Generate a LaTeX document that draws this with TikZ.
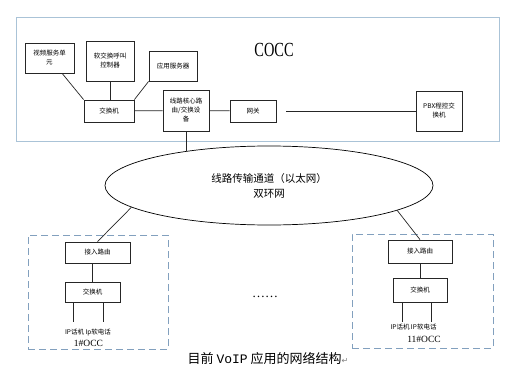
\documentclass[tikz,border=0pt]{standalone}
\usepackage{fontspec}
\setmainfont{Liberation Serif}
\newfontfamily\cjk{Noto Sans CJK SC}
\newfontfamily\mono{Liberation Mono}
\newfontfamily\symb{DejaVu Sans}
\usetikzlibrary{shapes.geometric}
\definecolor{framecol}{RGB}{170,195,215}
\definecolor{dashcol}{RGB}{130,160,190}

\begin{document}
\begin{tikzpicture}[x=1pt,y=-1pt]
	    \tikzstyle{box}=[draw=black!85,line width=0.8pt,inner sep=1pt,align=center,font=\cjk\fontsize{6.5}{9}\selectfont]
	    \tikzstyle{site}=[draw=dashcol,line width=0.8pt,dash pattern=on 7pt off 4pt]
	    \tikzstyle{tel}=[font=\cjk\fontsize{6.5}{8}\selectfont,inner sep=0pt]
	    \tikzstyle{occ}=[font=\fontsize{9.5}{10}\selectfont,inner sep=0pt]
	    \tikzstyle{wire}=[draw=black!85,line width=0.7pt]

	    \fill[white] (0,0) rectangle (524,377);
	    \useasboundingbox (0,0) rectangle (524,377);

	    % centre
	    \node[draw=framecol,line width=0.8pt,minimum width=483pt,minimum height=124pt](cocc) at (257.5,79){};
	    \node(title) at (274,50){\fontsize{20}{20}\selectfont\scalebox{0.72}[1]{COCC}};

	    \node[box,minimum width=49pt,minimum height=30pt](video) at (49.5,58){视频服务单\\元};
	    \node[box,minimum width=48pt,minimum height=40pt](soft) at (110,61){软交换呼叫\\控制器};
	    \node[box,minimum width=48pt,minimum height=30pt](app) at (173,66){应用服务器};
	    \node[box,minimum width=50pt,minimum height=22pt](sw) at (109,111){交换机};
	    \node[box,minimum width=46pt,minimum height=41pt](core) at (186,110.5){线路核心路\\由/交换设\\备};
	    \node[box,minimum width=46pt,minimum height=22pt](gw) at (253,111){网关};
	    \node[box,minimum width=46pt,minimum height=40pt](pbx) at (439,111){PBX程控交\\换机};

	    \node[draw=black,line width=0.7pt,ellipse,minimum width=328pt,minimum height=79pt,inner sep=0pt,align=center,
	          font=\cjk\fontsize{10.5}{15}\selectfont](ring) at (269,185.5){线路传输通道（以太网）\\双环网};

	    % sites
	    \node[site,minimum width=140pt,minimum height=114pt](site1) at (98,292){};
	    \node[box,minimum width=65pt,minimum height=21pt](r1) at (97.5,252.5){接入路由};
	    \node[box,minimum width=55pt,minimum height=20pt](s1) at (92.5,292){交换机};
	    \coordinate(t1a) at (73,322);
	    \coordinate(t1b) at (103,322);
	    \node[tel](ph1) at (88,333){IP话机 Ip软电话};
	    \node[occ](n1) at (88.5,343){1\#OCC};

	    \node[site,minimum width=141pt,minimum height=114pt](site2) at (422.5,291){};
	    \node[box,minimum width=64pt,minimum height=23pt](r2) at (420,251.5){接入路由};
	    \node[box,minimum width=54pt,minimum height=24pt](s2) at (420,290){交换机};
	    \coordinate(t2a) at (402,322);
	    \coordinate(t2b) at (431,322);
	    \node[tel](ph2) at (413.5,327){IP话机 IP软电话};
	    \node[occ](n2) at (424,339){11\#OCC};

	    \node(more) at (265,297){\fontsize{13}{13}\selectfont\ldots\ldots};

	    \node(cap) at (268,359){\cjk\fontsize{13}{13}\selectfont 目前 {\mono VoIP} 应用的网络结构{\symb\fontsize{8}{8}\selectfont\color{black!50}↵}};

	    \draw[wire] (video) -- (sw.north west);
	    \draw[wire] (soft.south) -- (soft.south |- sw.north);
	    \draw[wire] (app.south west) -- (sw.north east);
	    \draw[wire] (sw) -- (core);
	    \draw[wire] (core) -- (gw);
	    \draw[wire] ([xshift=10pt]gw.east) -- (pbx);
	    \draw[wire] (core.south) -- (core.south |- ring.157);

	    \draw[wire] (ring.189) -- (r1.north);
	    \draw[wire] (ring.349) -- (r2.north);

	    \draw[wire] (s1.north |- r1.south) -- (s1.north);
	    \draw[wire] (t1a |- s1.south) -- (t1a);
	    \draw[wire] (t1b |- s1.south) -- (t1b);

	    \draw[wire] (s2.north |- r2.south) -- (s2.north);
	    \draw[wire] (t2a |- s2.south) -- (t2a);
	    \draw[wire] (t2b |- s2.south) -- (t2b);
\end{tikzpicture}
\end{document}
